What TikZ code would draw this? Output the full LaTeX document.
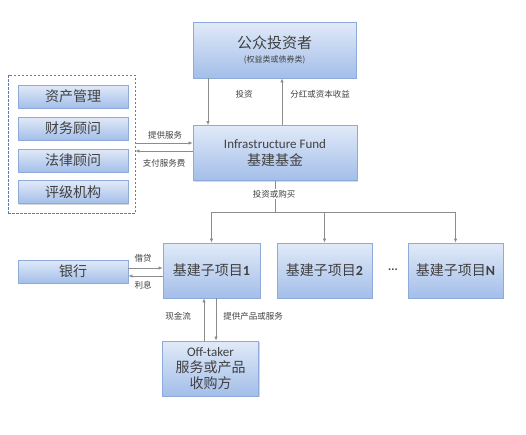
\documentclass[tikz,border=0pt]{standalone}
\usepackage{fontspec}
\setmainfont{Carlito}
\newfontfamily\cjk{Noto Sans CJK SC}
\usetikzlibrary{arrows.meta,shadows}
\definecolor{txt}{HTML}{404040}
\definecolor{edge}{HTML}{8EAADB}
\definecolor{ltop}{HTML}{E1EAF8}
\definecolor{lbot}{HTML}{A3BEE9}
\definecolor{arrc}{HTML}{8C8C8C}
\definecolor{dash}{HTML}{5B7FB0}
\tikzset{
  x=1pt, y=-1pt,
  box/.style={draw=edge, line width=0.8pt, top color=ltop, bottom color=lbot, text=txt,
    align=center, inner sep=0pt,
    drop shadow={opacity=0.3, shadow xshift=1.2pt, shadow yshift=-1.2pt}},
  big/.style={font=\cjk\fontsize{14}{17}\selectfont},
  arr/.style={draw=arrc, line width=0.7pt, -{Latex[length=4pt,width=3.5pt]}},
  plain/.style={draw=arrc, line width=0.7pt},
  lbl/.style={text=txt, font=\cjk\fontsize{8.5}{10}\selectfont, inner sep=1pt},
}
\begin{document}
\begin{tikzpicture}
\useasboundingbox[fill=white] (0,0) rectangle (526,434);

% boxes
\node[box, minimum width=163pt, minimum height=56pt, font=\fontsize{15}{14}\selectfont] (top) at (274.5,50)
  {{\cjk\fontsize{15}{14}\selectfont 公众投资者}\\{\cjk\fontsize{8}{9}\selectfont (权益类或债券类)}};
\node[box, minimum width=164pt, minimum height=55pt, font=\fontsize{13}{17}\selectfont] (fund) at (275,153)
  {Infrastructure Fund\\{\cjk\fontsize{14}{17}\selectfont 基建基金}};

\node[draw=dash, dashed, line width=0.8pt, dash pattern=on 2.5pt off 1.5pt,
  minimum width=127pt, minimum height=138pt, inner sep=0pt] (grp) at (71.5,144) {};
\node[box, big, minimum width=110pt, minimum height=23pt] (a1) at (73,96.5) {资产管理};
\node[box, big, minimum width=110pt, minimum height=23pt] (a2) at (73,128.5) {财务顾问};
\node[box, big, minimum width=110pt, minimum height=23pt] (a3) at (73,160.5) {法律顾问};
\node[box, big, minimum width=110pt, minimum height=23pt] (a4) at (73,192) {评级机构};

\node[box, minimum width=97pt, minimum height=55pt] (p1) at (211.5,270.5)
  {{\cjk\fontsize{14}{16}\selectfont 基建子项目}{\bfseries\fontsize{14}{16}\selectfont 1}};
\node[box, minimum width=95pt, minimum height=55pt] (p2) at (324.5,270.5)
  {{\cjk\fontsize{14}{16}\selectfont 基建子项目}{\bfseries\fontsize{14}{16}\selectfont 2}};
\node[box, minimum width=95pt, minimum height=55pt] (pN) at (455.5,270.5)
  {{\cjk\fontsize{14}{16}\selectfont 基建子项目}{\bfseries\fontsize{14}{16}\selectfont N}};
\node[text=txt, font=\fontsize{12}{14}\selectfont] (dots) at (393,270) {\textbf{...}};

\node[box, big, minimum width=110pt, minimum height=23pt] (bank) at (73,271.5) {银行};

\node[box, minimum width=96pt, minimum height=55pt, font=\fontsize{14}{16}\selectfont] (off) at (210.5,368.5)
  {{\fontsize{13}{16}\selectfont Off-taker}\\{\cjk 服务或产品}\\{\cjk 收购方}};

% investor <-> fund
\coordinate (xa) at (208,0);
\coordinate (xb) at (282,0);
\draw[arr] (top.south -| xa) -- (fund.north -| xa);
\draw[arr] (fund.north -| xb) -- (top.south -| xb);
\node[lbl] (l1) at (244,94) {投资};
\node[lbl] (l2) at (320,94) {分红或资本收益};

% services
\coordinate (ya) at (0,143);
\coordinate (yb) at (0,151);
\draw[arr] (grp.east |- ya) -- (fund.west |- ya);
\draw[arr] (fund.west |- yb) -- (grp.east |- yb);
\node[lbl] (l3) at (165,135) {提供服务};
\node[lbl] (l4) at (164,163) {支付服务费};

% fund -> projects
\coordinate (j) at (275,212);
\draw[plain] (fund.south) -- (j);
\draw[arr] (j) -| (p1.north);
\draw[arr] (j) -| (p2.north);
\draw[arr] (j) -| (pN.north);
\node[lbl, fill=white] (l5) at (274,194) {投资或购买};

% bank
\coordinate (yc) at (0,268);
\coordinate (yd) at (0,276);
\draw[arr] (bank.east |- yc) -- (p1.west |- yc);
\draw[arr] (p1.west |- yd) -- (bank.east |- yd);
\node[lbl] (l6) at (143,258) {借贷};
\node[lbl] (l7) at (143,285) {利息};

% offtaker
\coordinate (xc) at (204,0);
\coordinate (xd) at (216,0);
\draw[arr] (off.north -| xc) -- (p1.south -| xc);
\draw[arr] (p1.south -| xd) -- (off.north -| xd);
\node[lbl] (l8) at (178,316) {现金流};
\node[lbl] (l9) at (253,316) {提供产品或服务};
\end{tikzpicture}
\end{document}
